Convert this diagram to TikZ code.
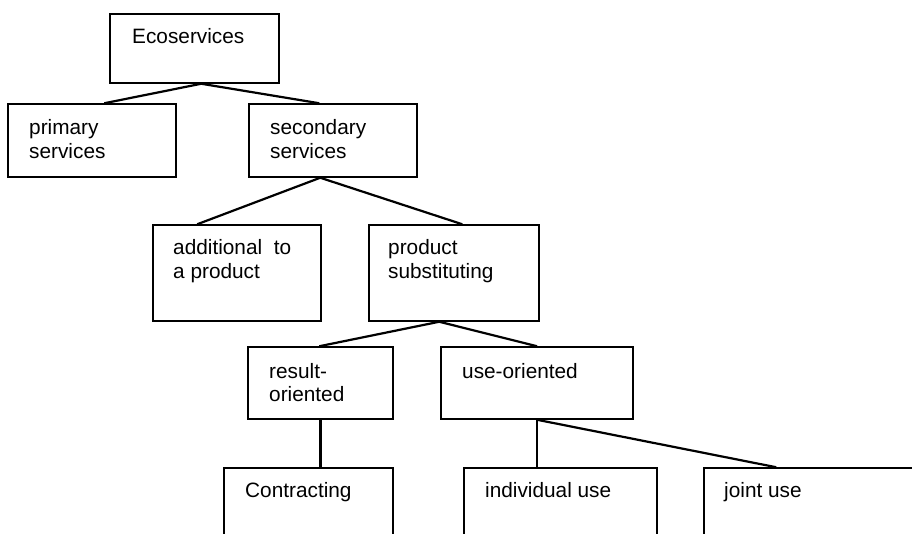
\documentclass[tikz,border=0pt]{standalone}
\usepackage{fontspec}
\setmainfont{Liberation Sans}
\begin{document}
\begin{tikzpicture}[x=1pt,y=-1pt,
  box/.style={draw,line width=1.5pt,inner sep=0pt,minimum width=#1},
  lbl/.style={anchor=base west,inner sep=0pt,align=left,font=\fontsize{20.8}{23.5}\selectfont},
  conn/.style={line width=2.2pt}]
\useasboundingbox (0,0) rectangle (912,534);
\clip (0,0) rectangle (912,534);
\node[box=169pt,minimum height=69pt] (eco) at (194.5,48.5) {};
\node[box=168pt,minimum height=73pt] (prim) at (92,140.5) {};
\node[box=168pt,minimum height=73pt] (sec) at (333,140.5) {};
\node[box=168pt,minimum height=96pt] (add) at (237,273) {};
\node[box=170pt,minimum height=96pt] (prod) at (454,273) {};
\node[box=145pt,minimum height=72pt] (res) at (320.5,383) {};
\node[box=192pt,minimum height=72pt] (use) at (537,383) {};
\node[box=169pt,minimum height=92pt] (con) at (308.5,514) {};
\node[box=193pt,minimum height=92pt] (ind) at (560.5,514) {};
\node[box=246pt,minimum height=92pt] (joint) at (827,514) {};

\node[lbl] (tEco) at (132,44) {Ecoservices};
\node[lbl] (tPrim) at (29,158.5) {primary\\services};
\node[lbl] (tSec) at (270,158.5) {secondary\\services};
\node[lbl] (tAdd) at (173,278.5) {additional\ \ to\\a product};
\node[lbl] (tProd) at (388,278.5) {product\\substituting};
\node[lbl] (tRes) at (269,401.5) {result-\\oriented};
\node[lbl] (tUse) at (462,378) {use-oriented};
\node[lbl] (tCon) at (245,497) {Contracting};
\node[lbl] (tInd) at (485,497) {individual use};
\node[lbl] (tJoint) at (724,497) {joint use};

\draw[conn] ([xshift=97pt]prim.north west) -- ([xshift=92pt]eco.south west) -- ([xshift=71pt]sec.north west);
\draw[conn] ([xshift=45pt]add.north west) -- ([xshift=72pt]sec.south west) -- ([xshift=94pt]prod.north west);
\draw[conn] ([xshift=72pt]res.north west) -- ([xshift=71pt]prod.south west) -- (use.north);
\draw[conn] (use.south) -- (use.south |- ind.north);
\draw[conn] (use.south) -- ([xshift=73pt]joint.north west);
\draw[conn] (res.south) -- (res.south |- con.north);
\end{tikzpicture}
\end{document}
